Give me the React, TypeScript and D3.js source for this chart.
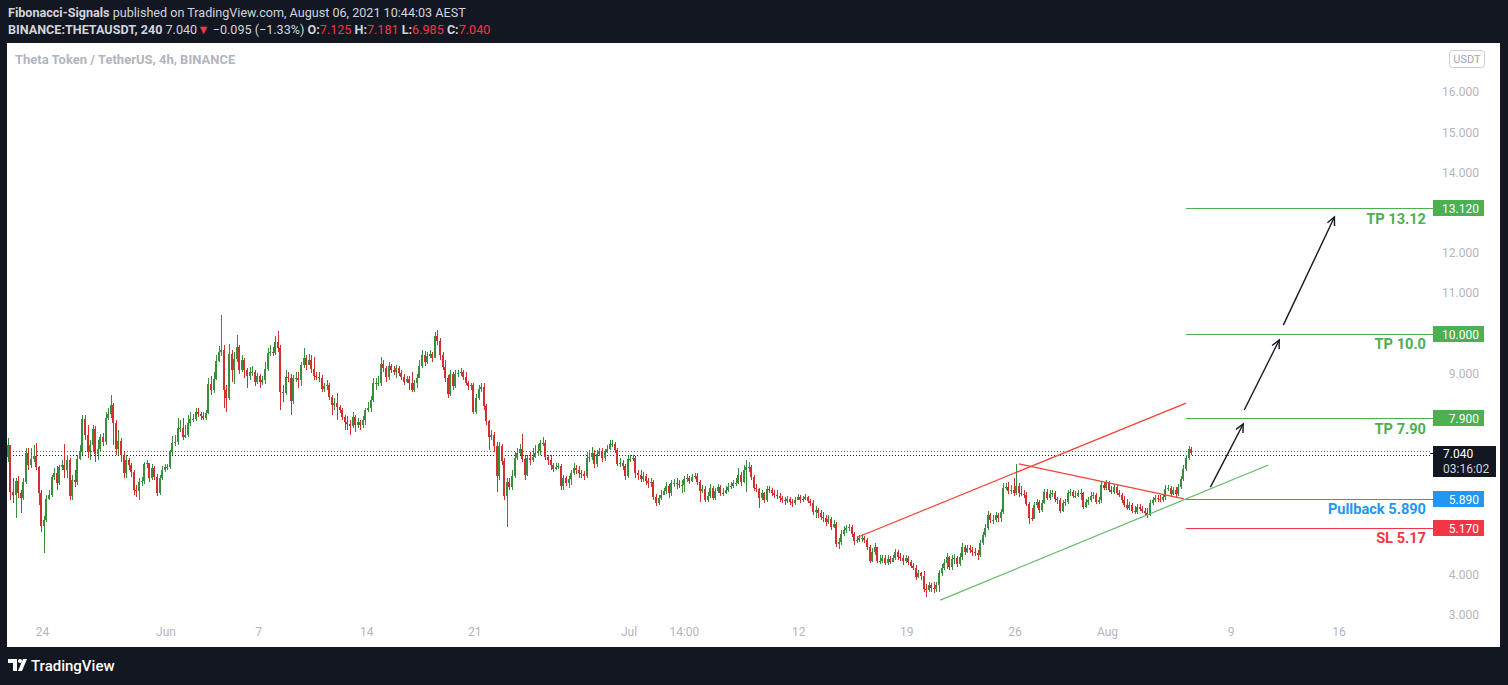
import React from "react";
import * as d3 from "d3";

// ---------- DATA ----------
// each bar: [high, low, close]; open = previous close; 4h bars ending Aug 6 2021 10:00
const FIRST_OPEN = 6.93;
const LAST_BAR = "2021-08-06T10:00Z";

const barsA = [
[7.40,6.81,7.23],[7.10,5.86,6.06],[6.41,5.79,5.98],[6.41,5.41,6.33],[6.46,5.91,6.03],[6.11,5.54,5.91],[6.41,5.86,6.31],[7.15,6.26,7.03],[7.15,6.61,6.73],[7.15,6.66,6.88],
[7.23,6.81,6.95],[7.28,6.61,6.68],[6.71,5.74,6.03],[6.11,5.06,5.21],[5.46,4.54,5.36],[5.98,5.31,5.89],[6.11,5.86,5.98],[6.48,5.94,6.43],[6.66,6.36,6.53],[6.71,6.11,6.28],
[6.73,6.23,6.68],[6.86,6.61,6.73],[7.25,6.41,6.61],[6.98,6.41,6.86],[6.91,5.86,5.96],[6.48,5.86,6.36],[6.61,6.18,6.31],[6.98,6.23,6.88],[7.23,6.86,7.05],[7.97,6.98,7.87],
[7.97,7.35,7.48],[7.73,6.91,7.05],[7.35,6.86,7.23],[7.73,7.05,7.63],[7.70,6.81,7.00],[7.35,6.86,7.13],[7.50,7.05,7.43],[7.53,7.20,7.30],[8.05,7.23,7.90],[8.15,7.85,8.00],
[8.47,7.90,8.22],[8.27,7.23,7.78],[7.85,6.98,7.13],[7.60,6.98,7.33],[7.40,6.81,6.98],[7.05,6.41,6.53],[6.98,6.41,6.86],[6.91,6.61,6.73],
[6.78,6.43,6.56],[6.61,5.98,6.11],[6.23,5.94,6.08],[6.41,5.86,6.31],[6.43,6.21,6.33],[6.81,6.26,6.76],[6.86,6.66,6.78],[6.78,6.31,6.41],[6.76,6.36,6.66],[6.71,6.36,6.43],
[6.51,5.96,6.03],[6.48,5.98,6.41],[6.71,6.36,6.61],[6.76,6.56,6.68],[6.76,6.61,6.68],[7.10,6.63,7.05],[7.45,6.98,7.28],[7.48,7.20,7.30],[7.90,7.23,7.65],[7.85,7.55,7.65],
[7.90,7.35,7.43],[7.73,7.40,7.48],[7.97,7.43,7.78],[8.05,7.70,7.87],[8.00,7.80,7.87],[8.15,7.82,8.05],[8.15,7.92,8.00],[8.05,7.85,7.95],[8.05,7.85,7.90],[8.10,7.85,8.02],
[8.90,8.00,8.75],[8.95,8.47,8.60],[9.04,8.52,8.87],[9.47,8.85,9.32],[9.69,9.29,9.54],[10.46,9.44,9.59],[9.72,8.15,8.60],[8.72,8.05,8.40],[9.74,8.35,9.49],[9.59,8.80,9.09],
[9.54,8.75,9.37],[9.97,9.29,9.67],[9.72,8.99,9.09],[9.47,9.04,9.34],[9.39,8.90,9.09],[9.14,8.65,8.95],[9.17,8.85,9.04],[9.19,8.95,9.04],[9.09,8.70,8.80],[9.02,8.75,8.95],
[8.99,8.65,8.80],[8.95,8.72,8.85],[9.29,8.75,9.12],[9.64,9.07,9.52],[9.72,9.44,9.54],[9.67,9.44,9.52],[9.94,9.47,9.79],[10.07,9.54,9.64],[9.72,8.10,8.55],[8.72,8.30,8.52],
[9.09,8.47,8.92],[9.04,8.80,8.90],[8.99,7.97,8.32],[8.97,8.25,8.90],[9.04,8.80,8.90],[9.04,8.65,8.85],[9.29,8.70,9.22],[9.64,9.14,9.39],[9.47,9.09,9.22],[9.49,9.22,9.34],
[9.47,9.02,9.12],[9.42,8.85,8.95],[9.04,8.85,8.92],[9.04,8.80,8.90]
];

const barsB = [
[8.97,8.55,8.62],[8.77,8.55,8.70],[8.85,8.60,8.72],[8.77,8.35,8.42],[8.47,7.97,8.22],[8.40,8.10,8.27],[8.52,7.85,8.17],[8.22,8.02,8.10],[8.15,7.85,7.92],[7.97,7.60,7.80],
[7.95,7.60,7.75],[7.85,7.48,7.70],[8.05,7.65,7.92],[7.97,7.55,7.73],[7.90,7.65,7.80],[7.85,7.60,7.73],[7.95,7.65,7.85],[8.15,7.73,8.10],[8.30,8.05,8.15],[8.45,8.05,8.35],
[8.90,8.30,8.77],[8.90,8.60,8.77],[8.95,8.70,8.77],[9.42,8.70,9.24],[9.34,9.04,9.14],[9.19,8.80,8.92],[9.29,8.85,9.19],[9.24,9.02,9.09],[9.19,8.97,9.04],[9.22,8.90,9.14],
[9.19,8.95,9.02],[9.09,8.85,8.92],[8.99,8.72,8.80],[8.95,8.77,8.87],[8.95,8.60,8.77],[9.04,8.55,8.60],[8.85,8.55,8.77],[8.99,8.65,8.90],[9.34,8.90,9.19],[9.59,9.14,9.47],
[9.57,9.19,9.29],[9.54,9.24,9.44],[9.59,9.39,9.49],[9.54,9.29,9.39],[10.04,9.39,9.94],[10.09,9.72,9.82],[9.89,9.34,9.47],[9.54,9.09,9.17],[9.34,8.80,8.90],[8.97,8.40,8.50],
[9.09,8.45,8.99],[9.04,8.60,8.70],[9.09,8.65,8.99],[9.09,8.92,9.02],[9.14,8.95,9.04],[9.09,8.85,8.92],[9.04,8.72,8.77],[8.82,8.60,8.70],[8.77,8.60,8.72],[8.77,8.00,8.05],
[8.50,8.00,8.40],[8.72,8.35,8.62],[8.77,8.55,8.67],
[8.77,8.10,8.20],[8.25,7.73,7.82],[7.85,7.10,7.43],[7.60,7.35,7.48],[7.55,7.05,7.20],[7.30,6.06,6.46],[7.30,6.36,7.20],[7.25,6.73,6.83],[6.91,5.86,5.96],[6.41,5.19,6.31],
[6.41,6.11,6.18],[6.61,6.11,6.46],[7.05,6.41,6.91],[7.15,6.86,7.03],[7.25,6.98,7.13],[7.50,6.81,6.88],[6.98,6.36,6.48],[6.98,6.46,6.91],[7.05,6.73,6.86],[7.15,6.81,6.93],
[7.23,6.91,7.03],[7.25,6.95,7.08],[7.35,6.98,7.28],[7.43,7.20,7.28],[7.35,6.86,6.93],[6.98,6.73,6.86],[6.98,6.61,6.73],[6.78,6.56,6.63],[6.78,6.61,6.68],[6.78,6.63,6.71],
[6.76,6.11,6.21],[6.48,6.11,6.41],[6.46,6.21,6.28],[6.46,6.16,6.38],[6.61,6.23,6.53],[6.78,6.48,6.66],[6.73,6.51,6.61],[6.71,6.41,6.53],[6.61,6.41,6.51],[6.58,6.36,6.46],
[7.05,6.41,6.91],[7.10,6.81,6.93],[7.18,6.86,7.03],[7.10,6.66,6.76],[7.10,6.68,7.00],[7.15,6.95,7.05],[7.15,6.81,6.91],[7.13,6.83,7.05],[7.23,7.03,7.13],[7.35,7.10,7.25],
[7.35,7.18,7.25],[7.30,7.03,7.10],[7.15,6.71,6.76],[6.91,6.68,6.78],[6.86,6.61,6.71],[6.76,6.36,6.46],[6.95,6.41,6.88],[6.98,6.81,6.88],[6.98,6.83,6.91],[6.95,6.41,6.53],
[6.61,6.36,6.48],[6.61,6.31,6.38],[6.56,6.31,6.46],[6.51,6.23,6.33],[6.41,6.16,6.28],[6.41,6.18,6.31],[6.36,5.86,5.94],[6.01,5.71,5.79],[5.98,5.74,5.91],[6.11,5.86,5.98]
];

const barsC = [
[6.16,5.98,6.08],[6.31,6.01,6.21],[6.26,5.91,6.03],[6.36,5.96,6.28],[6.38,6.18,6.28],[6.41,6.13,6.26],[6.36,6.16,6.23],[6.36,6.03,6.23],[6.46,6.06,6.38],[6.51,6.31,6.41],
[6.46,6.26,6.33],[6.51,6.31,6.43],[6.53,6.38,6.46],[6.53,6.23,6.31],[6.36,5.81,6.08],[6.23,6.03,6.13],[6.21,5.81,5.86],[6.06,5.81,5.96],[6.26,5.91,6.16],[6.21,5.86,5.91],
[6.16,5.86,6.08],[6.26,6.03,6.18],[6.23,5.96,6.03],[6.16,5.96,6.03],[6.21,6.01,6.11],[6.28,6.06,6.18],[6.31,6.13,6.21],[6.36,6.16,6.28],[6.41,6.21,6.28],[6.66,6.26,6.48],
[6.56,6.21,6.31],[6.73,6.28,6.61],[6.86,6.06,6.68],[6.81,6.56,6.68],[6.73,6.36,6.43],[6.48,6.08,6.16],[6.26,6.06,6.13],[6.16,5.66,5.91],[6.11,5.86,6.03],[6.06,5.79,5.86],
[6.21,5.81,6.13],[6.21,6.03,6.11],[6.16,5.96,6.03],[6.11,5.91,5.98],[6.11,5.89,5.96],[6.03,5.81,5.91],[5.96,5.79,5.86],[5.94,5.74,5.84],[5.96,5.79,5.89],[5.94,5.74,5.81],
[5.89,5.69,5.79],[5.94,5.74,5.86],[6.01,5.86,5.94],[5.98,5.79,5.86],[5.96,5.81,5.89],[6.01,5.86,5.94],[5.96,5.79,5.84],[5.89,5.71,5.79],[5.86,5.49,5.56],[5.71,5.41,5.61],
[5.66,5.41,5.54],[5.61,5.36,5.44],[5.56,5.31,5.41],[5.49,5.21,5.31],[5.49,5.26,5.39],[5.44,5.11,5.19],[5.36,5.16,5.26],[5.31,4.69,4.77]
];

const barsD = [
[4.92,4.64,4.82],[5.11,4.74,5.01],[5.21,4.97,5.11],[5.24,5.04,5.16],[5.26,5.09,5.19],[5.24,4.94,5.01],[5.06,4.74,4.84],[4.97,4.79,4.87],[4.99,4.82,4.92],[5.01,4.82,4.92],
[4.97,4.79,4.87],[4.92,4.62,4.69],[4.74,4.29,4.34],[4.67,4.32,4.57],[4.79,4.49,4.69],[4.67,4.29,4.34],[4.49,4.27,4.34],[4.49,4.29,4.42],[4.49,4.24,4.29],[4.49,4.24,4.39],
[4.47,4.27,4.32],[4.49,4.32,4.42],[4.64,4.37,4.57],[4.62,4.37,4.44],[4.54,4.34,4.42],[4.49,4.24,4.34],[4.49,4.29,4.42],[4.47,4.24,4.32],[4.37,4.17,4.22],[4.29,4.12,4.17],
[4.24,3.87,3.94],[4.12,3.92,4.04],[4.07,3.87,3.97],[4.09,3.57,3.65],[3.77,3.45,3.62],[3.82,3.57,3.75],[3.80,3.57,3.67],[3.82,3.55,3.65],[3.82,3.57,3.75],[4.12,3.57,4.04],
[4.27,3.97,4.17],[4.39,4.12,4.29],[4.54,4.14,4.44],[4.47,4.12,4.19],[4.49,4.12,4.39],[4.52,4.27,4.42],[4.47,4.19,4.27],[4.54,4.22,4.44],[4.79,4.37,4.69],[4.74,4.49,4.57],
[4.74,4.54,4.67],[4.74,4.54,4.62],[4.69,4.47,4.57],[4.67,4.47,4.54],[4.62,4.37,4.49],[4.87,4.44,4.79],[5.06,4.74,4.99],[5.26,4.94,5.16],[5.59,5.11,5.49],[5.54,5.29,5.36],
[5.49,5.26,5.36],[5.56,5.31,5.49],[5.54,5.31,5.41],[5.64,5.31,5.56],[6.28,5.51,6.16],[6.28,6.11,6.18],[6.31,6.01,6.08],[6.23,6.01,6.11],[6.41,5.96,6.03],[6.76,5.98,6.21],
[6.28,5.94,6.03],[6.21,5.96,6.01],[6.11,5.91,5.98],[6.06,5.71,5.76],[5.81,5.26,5.41],[5.66,5.34,5.39],[5.81,5.41,5.74],[5.89,5.66,5.81],[5.86,5.54,5.61],[5.86,5.56,5.79],
[6.13,5.76,6.06],[6.13,5.86,5.91],[6.11,5.86,6.01],[6.11,5.94,6.03],[6.08,5.81,5.89],[5.94,5.76,5.86],[5.91,5.54,5.59],[5.86,5.56,5.79],[5.89,5.71,5.81],[6.11,5.76,6.03],
[6.13,5.96,6.06],[6.11,5.91,5.96],[6.08,5.91,5.96],[6.11,5.94,6.03],[6.13,5.86,6.03],[6.06,5.64,5.69],[5.89,5.66,5.81],[5.94,5.74,5.86],[6.06,5.81,5.96],[6.06,5.89,5.98],
[6.03,5.76,5.81],[5.94,5.76,5.86],[6.31,5.79,6.23],[6.31,6.11,6.16],[6.36,6.11,6.28],[6.33,6.06,6.11],[6.21,6.01,6.06],[6.26,6.01,6.18],[6.23,5.98,6.03],[6.11,5.94,5.98],
[6.03,5.79,5.86],[5.96,5.69,5.74],[5.89,5.61,5.66],[5.81,5.61,5.74],[5.79,5.54,5.59],[5.71,5.51,5.56],[5.76,5.51,5.69],[5.76,5.59,5.64],[5.71,5.54,5.59],[5.66,5.49,5.54],
[5.66,5.41,5.49],[5.86,5.46,5.79],[5.94,5.74,5.86],[5.98,5.81,5.91],[5.98,5.81,5.89],[5.98,5.81,5.86],[6.01,5.81,5.94],[6.23,5.86,6.13],[6.23,6.08,6.16],[6.21,5.96,6.01],
[6.18,5.98,6.11],[6.18,5.91,6.01],[6.26,5.96,6.18],[6.46,6.13,6.38],[6.73,6.33,6.63],[6.98,6.58,6.91],[7.20,6.86,7.125],[7.181,6.985,7.04]
];

const priceTicks = [3, 4, 5, 6, 7, 8, 9, 10, 11, 12, 13, 14, 15, 16, 17];
const timeTickDates = ["2021-05-24T00:00Z", "2021-06-01T00:00Z", "2021-06-07T00:00Z", "2021-06-14T00:00Z", "2021-06-21T00:00Z", "2021-07-01T00:00Z", "2021-07-04T14:00Z", "2021-07-12T00:00Z", "2021-07-19T00:00Z", "2021-07-26T00:00Z", "2021-08-01T00:00Z", "2021-08-09T00:00Z", "2021-08-16T00:00Z"];
const timeTickLabels = ["24", "Jun", "7", "14", "21", "Jul", "14:00", "12", "19", "26", "Aug", "9", "16"];

const levelStart = "2021-08-06T02:00Z";
const levelPrices = [13.12, 10.0, 7.9, 5.89, 5.17];
const levelTags = ["13.120", "10.000", "7.900", "5.890", "5.170"];
const levelNames = ["TP 13.12", "TP 10.0", "TP 7.90", "Pullback 5.890", "SL 5.17"];
const levelColors = ["#4caf50", "#4caf50", "#4caf50", "#2196f3", "#f23645"];

const lastPrice = 7.04;
const lastPriceTag = ["7.040", "03:16:02"];
const dottedLevels = [7.09, 6.99];

// trend lines: [t1, p1, t2, p2]
const redChannel = ["2021-07-15T20:00Z", 4.94, "2021-08-06T02:00Z", 8.27];
const redFalling = ["2021-07-26T06:00Z", 6.76, "2021-08-05T23:00Z", 5.89];
const greenSupport = ["2021-07-21T04:00Z", 3.37, "2021-08-11T10:00Z", 6.73];
const arrowPaths = [
  ["2021-08-07T16:00Z", 6.18, "2021-08-09T19:00Z", 7.75],
  ["2021-08-09T20:40Z", 8.10, "2021-08-12T03:00Z", 9.84],
  ["2021-08-12T09:20Z", 10.21, "2021-08-15T16:50Z", 12.90],
];

const GREEN = "#388e3c";
const RED = "#d32f2f";
const H4 = 4 * 3600 * 1000;

export default function App() {
  const bars = [...barsA, ...barsB, ...barsC, ...barsD];
  const N = bars.length;
  const lastT = new Date(LAST_BAR).getTime();

  const x = d3.scaleUtc()
    .domain([new Date("2021-06-01T00:00Z"), new Date("2021-08-09T00:00Z")])
    .range([166, 1231]);
  const y = d3.scaleLinear().domain([3, 16]).range([615, 92.4]);
  const fmt = d3.format(".3f");

  const candles = bars.map((b, i) => {
    const [h, l, c] = b;
    const o = i === 0 ? FIRST_OPEN : bars[i - 1][2];
    const t = lastT - (N - 1 - i) * H4;
    const cx = Math.round(x(new Date(t)));
    const up = c >= o;
    const col = up ? GREEN : RED;
    const yTop = Math.round(y(Math.max(o, c)));
    const yBot = Math.round(y(Math.min(o, c)));
    const yh = Math.round(y(h));
    const yl = Math.round(y(l));
    return (
      <g key={i} fill={col}>
        <rect x={cx} y={yh} width={1} height={Math.max(1, yl - yh)} />
        <rect x={cx - 1} y={yTop} width={2} height={Math.max(1, yBot - yTop)} />
      </g>
    );
  });

  const seg = (s: any[], color: string, w: number, key: string) => (
    <line key={key} x1={x(new Date(s[0]))} y1={y(s[1])} x2={x(new Date(s[2]))} y2={y(s[3])}
      stroke={color} strokeWidth={w} />
  );

  const arrows = arrowPaths.map((a, i) => {
    const x1 = x(new Date(a[0] as string)), y1 = y(a[1] as number);
    const x2 = x(new Date(a[2] as string)), y2 = y(a[3] as number);
    const ang = Math.atan2(y2 - y1, x2 - x1);
    const L = 9, spread = 0.45;
    const p1 = [x2 - L * Math.cos(ang - spread), y2 - L * Math.sin(ang - spread)];
    const p2 = [x2 - L * Math.cos(ang + spread), y2 - L * Math.sin(ang + spread)];
    return (
      <g key={"ar" + i} stroke="#131722" strokeWidth={1.4} fill="none">
        <line x1={x1} y1={y1} x2={x2} y2={y2} />
        <polyline points={`${p1[0]},${p1[1]} ${x2},${y2} ${p2[0]},${p2[1]}`} />
      </g>
    );
  });

  const font = "Roboto, 'Liberation Sans', sans-serif";
  const PANE_R = 1430;
  const xLevel = x(new Date(levelStart));

  // axis labels hidden behind price tags
  const tagYs = [...levelPrices, lastPrice].map((p) => y(p));
  const visibleTicks = priceTicks.filter((p) => y(p) > 70 && tagYs.every((ty) => Math.abs(ty - y(p)) > 13));

  return (
    <svg width={1508} height={685} style={{ position: "fixed", left: 0, top: 0 }} fontFamily={font}>
      <rect x={0} y={0} width={1508} height={685} fill="#131722" />
      {/* header */}
      <text x={8} y={17} fontSize={12.6} fill="#d1d4dc">
        <tspan fontWeight="bold">Fibonacci-Signals</tspan>
        <tspan> published on TradingView.com, August 06, 2021 10:44:03 AEST</tspan>
      </text>
      <text x={8} y={34} fontSize={12.6} fill="#d1d4dc">
        <tspan fontWeight="bold">BINANCE:THETAUSDT, 240</tspan>
        <tspan> 7.040</tspan>
        <tspan fill="#f23645">▼</tspan>
        <tspan> −0.095 (−1.33%) </tspan>
        <tspan fontWeight="bold">O:</tspan><tspan fill="#f23645">7.125</tspan>
        <tspan fontWeight="bold"> H:</tspan><tspan fill="#f23645">7.181</tspan>
        <tspan fontWeight="bold"> L:</tspan><tspan fill="#f23645">6.985</tspan>
        <tspan fontWeight="bold"> C:</tspan><tspan fill="#f23645">7.040</tspan>
      </text>

      {/* chart panel */}
      <rect x={7} y={43} width={1493} height={604} fill="#ffffff" />
      <text x={15} y={64} fontSize={13} fontWeight="bold" fill="#b2b5be">Theta Token / TetherUS, 4h, BINANCE</text>

      {/* price axis labels */}
      {visibleTicks.map((p) => (
        <text key={"pt" + p} x={1479} y={y(p) + 4} fontSize={12} fill="#b2b5be" textAnchor="end">{fmt(p)}</text>
      ))}
      <rect x={1449.5} y={50.5} width={35} height={17} rx={3} fill="#ffffff" stroke="#c9cbd1" />
      <text x={1467} y={63} fontSize={11} fill="#a3a6af" textAnchor="middle">USDT</text>

      {/* time axis labels */}
      {timeTickDates.map((d, i) => (
        <text key={"tt" + i} x={x(new Date(d))} y={636} fontSize={12} fill="#b2b5be" textAnchor="middle">{timeTickLabels[i]}</text>
      ))}

      <clipPath id="pane"><rect x={7} y={43} width={PANE_R - 7} height={604} /></clipPath>
      <g clipPath="url(#pane)">
        {dottedLevels.map((p, i) => (
          <line key={"dl" + i} x1={7} x2={PANE_R} y1={Math.round(y(p)) + 0.5} y2={Math.round(y(p)) + 0.5}
            stroke={i === 0 ? "#5d606b" : "#131722"} strokeWidth={1} strokeDasharray="1 2" />
        ))}
        {candles}
        {seg(redChannel, "#f44336", 1.2, "rc")}
        {seg(redFalling, "#f44336", 1.2, "rf")}
        {seg(greenSupport, "#66bb6a", 1.2, "gs")}
        {levelPrices.map((p, i) => (
          <line key={"lv" + i} x1={xLevel} x2={PANE_R} y1={Math.round(y(p)) + 0.5} y2={Math.round(y(p)) + 0.5}
            stroke={levelColors[i]} strokeWidth={1} />
        ))}
        {arrows}
        {levelPrices.map((p, i) => (
          <text key={"ln" + i} x={1426} y={y(p) + 15.5} fontSize={14.6} fontWeight="bold" fill={levelColors[i]} textAnchor="end">{levelNames[i]}</text>
        ))}
      </g>

      {/* price tags */}
      {levelPrices.map((p, i) => {
        const yy = Math.round(y(p));
        return (
          <g key={"tag" + i}>
            <line x1={PANE_R} x2={1434} y1={yy + 0.5} y2={yy + 0.5} stroke={levelColors[i]} />
            <rect x={1433} y={yy - 8} width={51} height={16} fill={levelColors[i]} />
            <text x={1479} y={yy + 4.5} fontSize={12} fill="#ffffff" textAnchor="end">{levelTags[i]}</text>
          </g>
        );
      })}
      {(() => {
        const yy = Math.round(y(lastPrice));
        return (
          <g>
            <line x1={PANE_R} x2={1434} y1={yy + 0.5} y2={yy + 0.5} stroke="#131722" />
            <rect x={1433} y={yy - 7} width={63} height={31} fill="#131722" />
            <text x={1443} y={yy + 4.5} fontSize={12} fill="#ffffff">{lastPriceTag[0]}</text>
            <text x={1443} y={yy + 19.5} fontSize={12} fill="#d1d4dc">{lastPriceTag[1]}</text>
          </g>
        );
      })()}

      {/* footer logo */}
      <g fill="#ffffff">
        <path d="M8 659 h9 v12 h-4 v-8 h-5 z" />
        <circle cx={20} cy={661} r={2} />
        <path d="M23 659 h4 l-5 12 h-4 z" />
      </g>
      <text x={31} y={671} fontSize={15} fill="#ffffff" fontWeight="500">TradingView</text>
    </svg>
  );
}
